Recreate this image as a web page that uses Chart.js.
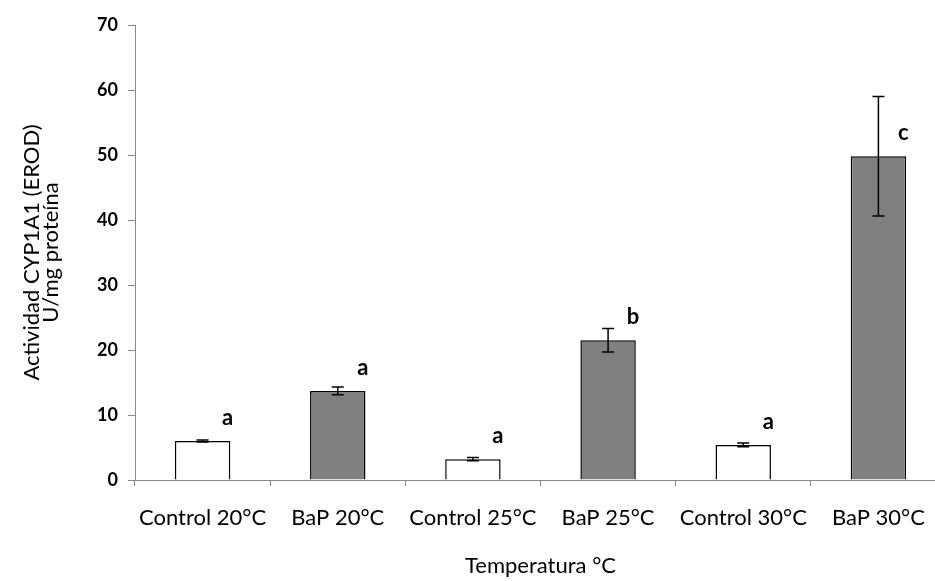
<!DOCTYPE html>
<html>
<head>
<meta charset="utf-8">
<script src="https://cdn.jsdelivr.net/npm/chart.js@4.4.1/dist/chart.umd.min.js"></script>
<style>
  html, body { margin: 0; padding: 0; background: #fff; overflow: hidden; }
  #wrap { position: relative; width: 946px; height: 581px; }
</style>
</head>
<body>
<div id="wrap"><canvas id="erodChart"></canvas></div>
<script>
// values
const categories = ["Control 20°C", "BaP 20°C", "Control 25°C", "BaP 25°C", "Control 30°C", "BaP 30°C"];
const activity = [6.0, 13.7, 3.2, 21.5, 5.4, 49.8];
const errors = [0.15, 0.6, 0.25, 1.8, 0.3, 9.2];
const letters = ["a", "a", "a", "b", "a", "c"];
const fills = ["#ffffff", "#808080", "#ffffff", "#808080", "#ffffff", "#808080"];

const textColor = "#000000";
const axisColor = "#888888";

// error bars + significance letters
const extrasPlugin = {
  id: "extras",
  afterDatasetsDraw(chart) {
    const ctx = chart.ctx;
    const y = chart.scales.y;
    const meta = chart.getDatasetMeta(0);
    ctx.save();
    meta.data.forEach((bar, i) => {
      const x = bar.x;
      const top = y.getPixelForValue(activity[i] + errors[i]);
      const bot = y.getPixelForValue(activity[i] - errors[i]);
      ctx.strokeStyle = "#000";
      ctx.lineWidth = 1.5;
      ctx.beginPath();
      ctx.moveTo(x, top); ctx.lineTo(x, bot);
      ctx.moveTo(x - 6, top); ctx.lineTo(x + 6, top);
      ctx.moveTo(x - 6, bot); ctx.lineTo(x + 6, bot);
      ctx.stroke();

      ctx.fillStyle = textColor;
      ctx.font = "bold 22px Lato";
      ctx.textAlign = "center";
      ctx.textBaseline = "alphabetic";
      ctx.fillText(letters[i], x + 25, y.getPixelForValue(activity[i]) - 16);
    });
    ctx.restore();
  }
};

new Chart(document.getElementById("erodChart"), {
  type: "bar",
  data: {
    labels: categories,
    datasets: [{
      data: activity,
      backgroundColor: fills,
      borderColor: "#000000",
      borderWidth: 1.5,
      categoryPercentage: 1.0,
      barPercentage: 0.41
    }]
  },
  options: {
    responsive: true,
    maintainAspectRatio: false,
    animation: false,
    layout: { padding: { top: 25, right: 0, left: 0, bottom: 0 } },
    plugins: {
      legend: { display: false },
      tooltip: { enabled: false }
    },
    scales: {
      x: {
        afterFit(scale) { scale.height = 101; },
        grid: { drawOnChartArea: false, tickLength: 6, color: axisColor },
        border: { color: axisColor },
        ticks: {
          color: textColor,
          font: { family: "Lato", size: 22 },
          padding: 19,
          maxRotation: 0,
          autoSkip: false
        },
        title: {
          display: true,
          text: "Temperatura °C",
          color: textColor,
          font: { family: "Lato", size: 22 },
          padding: { top: 0, bottom: 2 }
        }
      },
      y: {
        min: 0,
        max: 70,
        afterFit(scale) { scale.width = 135; },
        grid: { drawOnChartArea: false, tickLength: 7, color: axisColor },
        border: { color: axisColor },
        ticks: {
          stepSize: 10,
          color: textColor,
          font: { family: "Lato", size: 18, weight: "bold" },
          padding: 10
        },
        title: {
          display: true,
          text: ["Actividad CYP1A1 (EROD)", "U/mg proteína"],
          color: textColor,
          font: { family: "Lato", size: 22, lineHeight: 0.85 },
          padding: { top: 23, bottom: 0 }
        }
      }
    }
  },
  plugins: [extrasPlugin]
});
</script>
</body>
</html>
